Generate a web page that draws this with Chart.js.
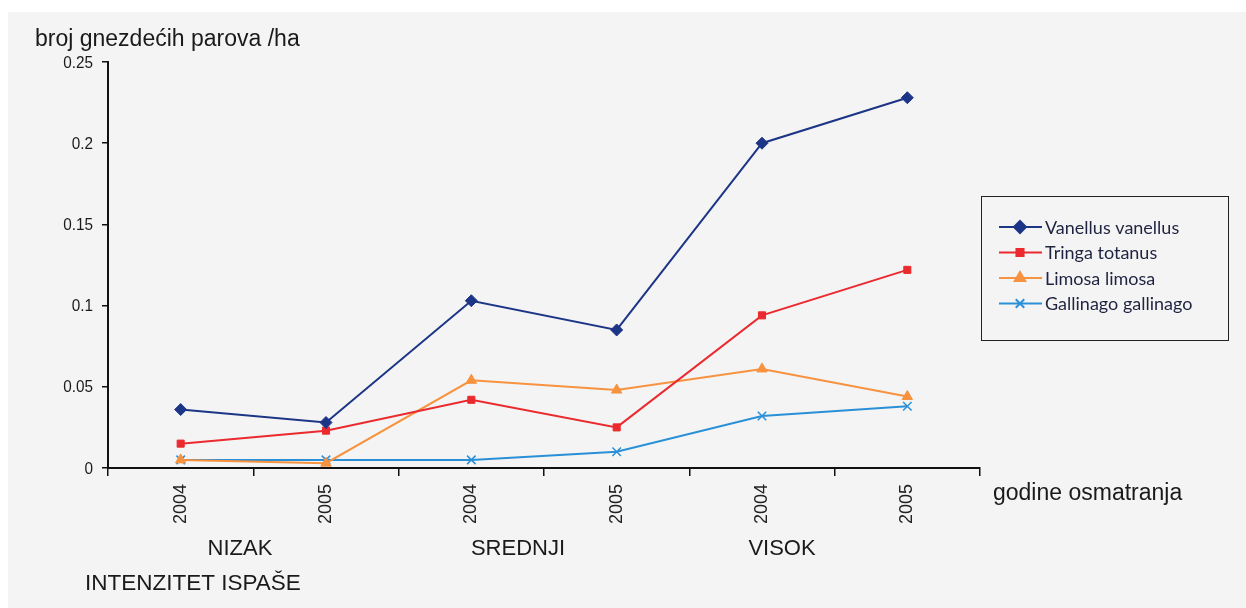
<!DOCTYPE html>
<html>
<head>
<meta charset="utf-8">
<script src="https://cdn.jsdelivr.net/npm/chart.js@4/dist/chart.umd.min.js"></script>
<style>
  html, body { margin: 0; padding: 0; background: #ffffff; }
  #wrap { position: absolute; left: 0; top: 0; width: 1246px; height: 608px; }
  #bg { position: absolute; left: 8px; top: 12px; width: 1238px; height: 596px; background: #f4f4f4; }
  canvas { position: absolute; left: 0; top: 0; }
</style>
</head>
<body>
<div id="wrap">
  <div id="bg"></div>
  <canvas id="c" width="1246" height="608"></canvas>
</div>
<script>
// Years of observation, grouped by grazing intensity
const categories = ['2004', '2005', '2004', '2005', '2004', '2005'];
const groups = ['NIZAK', 'SREDNJI', 'VISOK'];
const yTicks = [0, 0.05, 0.1, 0.15, 0.2, 0.25];

// Breeding pairs per hectare
const vanellus  = [0.036, 0.028, 0.103, 0.085, 0.200, 0.228];
const tringa    = [0.015, 0.023, 0.042, 0.025, 0.094, 0.122];
const limosa    = [0.005, 0.003, 0.054, 0.048, 0.061, 0.044];
const gallinago = [0.005, 0.005, 0.005, 0.010, 0.032, 0.038];

const seriesNames = ['Vanellus vanellus', 'Tringa totanus', 'Limosa limosa', 'Gallinago gallinago'];

const LABEL_FONT = '"Liberation Sans", Arial, sans-serif';
const LEGEND_FONT = 'Lato, "Open Sans", sans-serif';

// horizontal centres of the grazing-intensity captions
const groupCaptionX = [240, 518, 782];

function fmt(v) { return String(parseFloat(Number(v).toFixed(2))); }

function ds(label, data, color, style, radius) {
  return {
    label, data,
    borderColor: color, backgroundColor: color,
    pointBackgroundColor: color, pointBorderColor: color,
    pointStyle: style, pointRadius: radius, pointHoverRadius: radius,
    pointBorderWidth: style === 'crossRot' ? 1.5 : 1,
    borderWidth: 2, tension: 0, fill: false
  };
}

const datasets = [
  ds(seriesNames[0], vanellus, '#1c3586', 'rectRot', 6),
  ds(seriesNames[1], tringa, '#ea2a2e', 'rect', 5),
  ds(seriesNames[2], limosa, '#f7923f', 'triangle', 6),
  ds(seriesNames[3], gallinago, '#2990d8', 'crossRot', 6)
];

// Condensed text helper: draws a string squeezed horizontally
function narrowText(ctx, text, x, y, squeeze) {
  ctx.save();
  ctx.translate(x, y);
  ctx.scale(squeeze, 1);
  ctx.fillText(text, 0, 0);
  ctx.restore();
}

// Value labels, axis titles, group captions and the boxed legend
const annotations = {
  id: 'annotations',
  afterDraw(chart) {
    const ctx = chart.ctx;
    const ys = chart.scales.y;
    ctx.save();
    ctx.fillStyle = '#1a1a1a';
    ctx.textBaseline = 'middle';

    // y tick labels
    ctx.font = '17px ' + LABEL_FONT;
    ctx.textAlign = 'right';
    yTicks.forEach(v => narrowText(ctx, fmt(v), 93, ys.getPixelForValue(v) + 1, 0.9));

    ctx.textAlign = 'left';
    ctx.font = '23px ' + LABEL_FONT;
    ctx.fillText('broj gnezdećih parova /ha', 35, 40);
    ctx.fillText('godine osmatranja', 993, 494);

    ctx.font = '22px ' + LABEL_FONT;
    ctx.textAlign = 'center';
    groups.forEach((g, i) => ctx.fillText(g, groupCaptionX[i], 549));
    ctx.textAlign = 'left';
    ctx.font = '22.5px ' + LABEL_FONT;
    ctx.fillText('INTENZITET ISPAŠE', 85, 584);

    // legend box
    const bx = 981, by = 196, bw = 247, bh = 144;
    ctx.strokeStyle = '#222';
    ctx.lineWidth = 1;
    ctx.strokeRect(bx + 0.5, by + 0.5, bw, bh);
    ctx.font = '18px ' + LEGEND_FONT;
    chart.data.datasets.forEach((d, i) => {
      const y = 227 + i * 25.5;
      ctx.strokeStyle = d.borderColor;
      ctx.lineWidth = 2;
      ctx.beginPath();
      ctx.moveTo(999, y);
      ctx.lineTo(1042, y);
      ctx.stroke();
      ctx.fillStyle = d.borderColor;
      Chart.helpers.drawPoint(ctx, {
        pointStyle: d.pointStyle,
        radius: d.pointRadius,
        rotation: 0,
        borderWidth: d.pointBorderWidth
      }, 1020, y);
      ctx.fillStyle = '#1f2340';
      ctx.fillText(d.label, 1045, y + 1);
    });
    ctx.restore();
  }
};

new Chart(document.getElementById('c'), {
  type: 'line',
  data: { labels: categories, datasets },
  plugins: [annotations],
  options: {
    responsive: false,
    animation: false,
    devicePixelRatio: 1,
    layout: { padding: { left: 0, top: 62, right: 266, bottom: 0 } },
    plugins: { legend: { display: false }, tooltip: { enabled: false } },
    scales: {
      x: {
        type: 'category',
        offset: true,
        grid: { offset: true, drawOnChartArea: false, drawTicks: true, tickLength: 8, color: '#111', lineWidth: 1.5 },
        border: { display: true, color: '#111', width: 2 },
        ticks: {
          minRotation: 90, maxRotation: 90, padding: 8,
          color: '#222', font: { family: LABEL_FONT, size: 18 }
        },
        afterFit(scale) { scale.height = 140; }
      },
      y: {
        min: 0, max: 0.25,
        afterBuildTicks(scale) { scale.ticks = yTicks.map(v => ({ value: v })); },
        grid: { drawOnChartArea: false, drawTicks: true, tickLength: 6, color: '#111', lineWidth: 1.5 },
        border: { display: true, color: '#111', width: 2 },
        ticks: { display: false },
        afterFit(scale) { scale.width = 108; }
      }
    }
  }
});
</script>
</body>
</html>
